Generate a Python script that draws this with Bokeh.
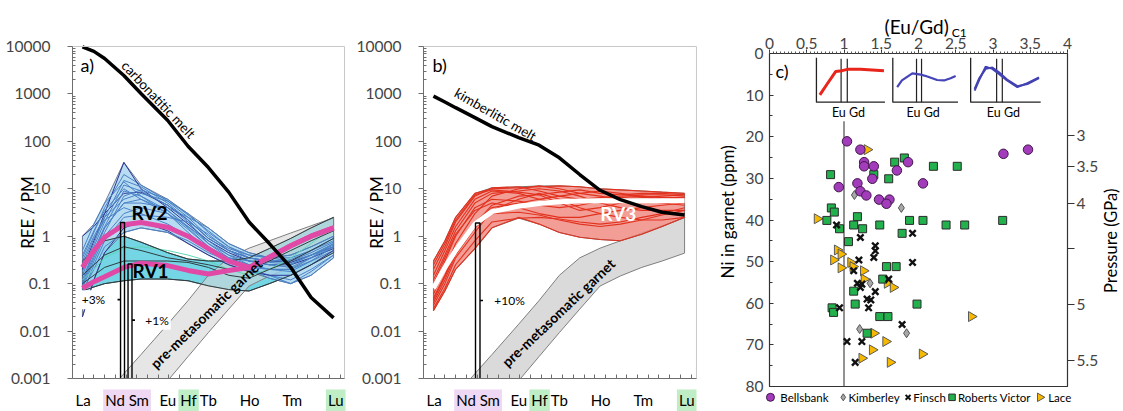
import numpy as np
from bokeh.plotting import figure
from bokeh.models import (Range1d, FixedTicker, LinearAxis, Label)
from bokeh.layouts import row
from bokeh.embed import file_html
from bokeh.resources import INLINE

FONT = "Lato"

# ---------------------------------------------------------------- spidergram data
elements = ["La", "Ce", "Pr", "Nd", "Sm", "Eu", "Hf", "Tb", "Dy", "Ho", "Er", "Tm", "Yb", "Lu"]
element_x = [0.93, 2.0, 3.0, 4.8, 6.4, 8.9, 10.8, 12.7, 14.6, 16.5, 18.4, 20.4, 22.3, 24.4]

ree_labels = ["La", "Nd Sm", "Eu", "Hf", "Tb", "Ho", "Tm", "Lu"]
ree_label_x = [1.0, 5.1, 8.9, 10.85, 12.7, 16.55, 20.55, 24.6]
ree_label_bg = [None, "#efd8f3", None, "#bfeec6", None, None, None, "#bfeec6"]

decades = [0.001, 0.01, 0.1, 1, 10, 100, 1000, 10000]
decade_labels = ["0.001", "0.01", "0.1", "1", "10", "100", "1000", "10000"]

carbonatitic_melt = [9800, 7900, 5600, 2450, 1020, 275, 79, 28, 8.5, 2.0, 0.7, 0.22, 0.051, 0.019]
kimberlitic_melt = [900, 676, 513, 316, 204, 120, 83, 45, 20, 9.3, 5.9, 4.2, 3.2, 2.8]

garnet_upper = [0.0001, 0.0002, 0.00044, 0.00126, 0.0032, 0.014, 0.044, 0.15, 0.35, 0.56, 0.8, 1.17, 1.66, 2.45]
garnet_lower = [0.000005, 0.00001, 0.00002, 0.00006, 0.00017, 0.0009, 0.0029, 0.0093, 0.029, 0.089, 0.145, 0.22, 0.3, 0.44]

rv1 = [0.08, 0.11, 0.14, 0.22, 0.27, 0.24, 0.19, 0.16, 0.19, 0.22, 0.36, 0.63, 1.0, 1.5]
rv2 = [0.22, 0.5, 0.95, 1.75, 1.95, 1.55, 1.0, 0.55, 0.3, 0.22, 0.36, 0.63, 1.0, 1.5]
rv3 = [0.08, 0.22, 0.5, 1.8, 3.3, 4.3, 4.9, 5.3, 5.5, 5.6, 5.6, 5.6, 5.6, 5.6]

rv2_patterns = [
    [1.0, 1.6, 3.0, 8.0, 8.5, 4.5, 2.2, 0.9, 0.5, 0.35, 0.3, 0.28, 0.4, 0.6],
    [0.35, 1.2, 4.0, 20, 12, 5.5, 2.5, 1.0, 0.55, 0.4, 0.35, 0.35, 0.5, 0.8],
    [0.2, 0.8, 3.0, 36, 10, 4.0, 1.8, 0.8, 0.45, 0.3, 0.25, 0.25, 0.35, 0.55],
    [0.15, 0.6, 2.0, 12, 9.0, 4.5, 2.0, 0.7, 0.35, 0.25, 0.2, 0.2, 0.3, 0.5],
    [0.3, 1.0, 2.5, 6.0, 8.0, 5.5, 3.0, 1.2, 0.6, 0.4, 0.35, 0.4, 0.6, 1.0],
    [0.1, 0.4, 1.5, 5.0, 6.0, 3.5, 1.5, 0.6, 0.3, 0.2, 0.15, 0.12, 0.2, 0.4],
    [0.08, 0.3, 1.0, 3.0, 4.0, 3.0, 1.6, 0.8, 0.4, 0.25, 0.2, 0.18, 0.3, 0.6],
    [0.25, 0.9, 2.2, 4.0, 3.0, 1.8, 1.0, 0.5, 0.3, 0.2, 0.15, 0.1, 0.15, 0.35],
    [0.12, 0.5, 1.6, 9.0, 7.0, 3.0, 1.2, 0.5, 0.28, 0.22, 0.2, 0.2, 0.35, 0.7],
    [0.06, 0.25, 0.8, 2.5, 2.8, 2.5, 2.0, 1.1, 0.5, 0.3, 0.25, 0.25, 0.4, 0.7],
    [0.18, 0.7, 2.5, 15, 11, 5.0, 2.2, 0.9, 0.5, 0.35, 0.3, 0.3, 0.45, 0.75],
    [0.4, 1.3, 3.5, 10, 6.0, 3.0, 1.4, 0.6, 0.35, 0.3, 0.3, 0.32, 0.5, 0.9],
    [0.02, 0.12, 0.45, 1.5, 2.0, 1.3, 0.7, 0.4, 0.25, 0.18, 0.15, 0.15, 0.25, 0.5],
    [0.1, 0.5, 1.5, 5.0, 5.0, 4.0, 2.5, 1.5, 0.7, 0.45, 0.35, 0.3, 0.4, 0.6],
    [0.07, 0.2, 0.6, 1.2, 1.5, 1.2, 0.8, 0.45, 0.3, 0.2, 0.13, 0.1, 0.18, 0.4],
    [0.5, 1.8, 5.0, 14, 7.0, 3.5, 1.6, 0.7, 0.4, 0.3, 0.25, 0.22, 0.35, 0.6],
    [0.09, 0.35, 1.2, 7.0, 9.5, 6.0, 2.8, 1.3, 0.6, 0.35, 0.28, 0.26, 0.4, 0.65],
]
rv1_patterns = [
    [0.3, 0.5, 0.8, 1.0, 0.75, 0.45, 0.33, 0.3, 0.3, 0.35, 0.55, 0.9, 1.5, 2.5],
    [0.07, 0.085, 0.1, 0.115, 0.125, 0.125, 0.115, 0.09, 0.075, 0.07, 0.1, 0.15, 0.25, 0.45],
    [0.15, 0.25, 0.4, 0.6, 0.5, 0.35, 0.3, 0.25, 0.2, 0.2, 0.3, 0.5, 0.8, 1.3],
    [0.1, 0.15, 0.22, 0.3, 0.3, 0.3, 0.28, 0.22, 0.15, 0.13, 0.2, 0.3, 0.5, 0.9],
]
rv1_mint = [0.12, 0.2, 0.35, 0.55, 0.6, 0.5, 0.4, 0.3, 0.2, 0.15, 0.2, 0.35, 0.7, 1.6]

rv3_patterns = [
    [0.3, 0.8, 2.5, 8, 10, 10.5, 11, 11.5, 11, 10, 9.5, 9, 8.5, 8],
    [0.2, 0.6, 2, 7, 10.5, 11, 9, 7, 6, 6.5, 7, 7.5, 7.5, 7],
    [0.12, 0.4, 1.3, 5, 8, 9, 10, 9, 7, 5, 4, 3.5, 3.5, 3.5],
    [0.08, 0.3, 1, 4, 6, 5.5, 4.5, 4, 4.5, 5.5, 6.5, 7, 6.5, 6],
    [0.05, 0.15, 0.5, 2, 4, 5, 6, 7, 8, 9, 8, 7, 6, 5],
    [0.04, 0.12, 0.4, 1.5, 3, 3.2, 2.8, 2.2, 1.8, 1.6, 1.8, 2.2, 2.8, 3.5],
    [0.03, 0.08, 0.25, 0.8, 2.0, 2.4, 2.5, 2.3, 2, 1.8, 2, 2.5, 3, 4],
    [0.027, 0.07, 0.2, 0.55, 1.5, 2.5, 1.8, 1.2, 0.95, 0.85, 0.8, 1.1, 1.6, 2.5],
    [0.15, 0.5, 1.6, 6, 9, 8, 6, 5, 5, 5.5, 6, 6.5, 7, 7.5],
    [0.06, 0.2, 0.7, 3, 7, 10, 11.5, 10, 8, 7, 6, 5.5, 5, 4.5],
    [0.1, 0.35, 1.1, 3.5, 5, 4, 3, 2.5, 2.5, 3, 3.5, 4, 4.5, 5],
    [0.035, 0.1, 0.35, 1.2, 3.5, 6, 8, 6, 4, 3, 2.5, 2.2, 2.2, 2.5],
    [0.25, 0.7, 2.2, 7.5, 9.5, 8.5, 7.5, 8.5, 9.5, 8, 7.5, 8, 8, 7.5],
    [0.045, 0.14, 0.45, 1.8, 4.5, 7, 7.5, 5, 3.5, 4, 5, 6, 6.5, 6.5],
]

# melting bars: x extent, top value, marked step and its label
bars_a_left = [4.49, 5.19]
bars_a_right = [4.86, 5.56]
bars_a_top = [1.95, 0.26]
bars_a_mark = [0.046, 0.017]
bars_a_text = ["+3%", "+1%"]
bars_b_left = [4.86]
bars_b_right = [5.28]
bars_b_top = [1.9]
bars_b_mark = [0.044]
bars_b_text = ["+10%"]

# ---------------------------------------------------------------- panel c data
bellsbank_eugd = [1.04, 1.22, 1.27, 1.27, 1.40, 1.71, 1.86, 1.38, 1.18, 0.93, 2.06, 3.14, 3.47,
                  1.22, 1.30, 1.47, 1.61, 1.57]
bellsbank_ni = [21.1, 23.1, 26.1, 27.1, 27.1, 28.1, 26.1, 30.1, 31.2, 32.1, 31.2, 24.1, 23.1,
                33.1, 34.1, 35.1, 35.1, 36.1]
kimberley_eugd = [1.14, 1.77, 1.35, 1.21, 1.84]
kimberley_ni = [34.0, 37.1, 55.2, 66.2, 67.2]
finsch_eugd = [0.90, 1.92, 1.22, 1.42, 1.42, 1.40, 1.20, 1.92, 1.13, 1.60, 1.18, 1.24, 1.22,
               1.42, 1.31, 1.36, 1.33, 0.94, 1.78, 1.04, 1.24, 1.15]
finsch_ni = [41.2, 43.2, 44.2, 46.2, 47.4, 49.0, 49.6, 50.2, 52.2, 54.2, 55.2, 55.4, 56.2,
             57.2, 59.0, 59.2, 61.1, 61.1, 65.1, 69.2, 69.2, 74.2]
rv_eugd = [0.82, 1.40, 1.68, 1.81, 1.60, 2.20, 2.52, 0.83, 0.87, 0.77, 0.94, 1.18, 1.13, 1.25,
           1.48, 1.88, 2.06, 2.37, 2.62, 3.13, 1.78, 1.06, 1.57, 1.70, 1.52, 1.13, 1.15, 1.98,
           0.84, 0.86, 1.48, 1.59, 1.31]
rv_ni = [29.1, 29.1, 26.1, 25.1, 30.1, 27.1, 27.1, 37.1, 38.1, 40.1, 42.1, 39.2, 41.2, 42.1,
         41.2, 40.1, 40.1, 41.2, 41.2, 40.1, 43.2, 45.2, 51.2, 51.2, 54.2, 57.1, 60.2, 60.2,
         61.1, 62.2, 63.2, 63.2, 67.2]
lace_eugd = [1.31, 0.64, 0.91, 0.96, 0.86, 0.96, 1.09, 1.12, 1.26, 1.27, 1.58, 1.66, 2.71,
             1.40, 1.56, 1.38, 2.05, 1.24, 1.62]
lace_ni = [23.1, 39.7, 47.2, 48.2, 49.6, 51.5, 50.2, 51.2, 52.2, 54.2, 55.2, 56.2, 63.2,
           67.2, 69.2, 71.2, 72.2, 73.2, 74.2]

pressure_gpa = [3, 3.5, 4, 4.5, 5, 5.5]
pressure_ni = [19.7, 27.1, 36.0, 46.9, 60.2, 73.8]
pressure_text = ["3", "3.5", "4", "", "5", "5.5"]

eugd_ticks = [0, 0.5, 1, 1.5, 2, 2.5, 3, 3.5, 4]

# mini REE patterns (fractions of each inset box)
inset_left = [0.63, 1.655, 2.70]
inset_right = [1.55, 2.53, 3.64]
inset_top_ni = 1.03
inset_bottom_ni = 11.7
inset_eu = [0.36, 0.364, 0.371]
inset_gd = [0.45, 0.441, 0.452]
inset1_x = [0.05, 0.156, 0.28, 0.375, 0.45, 0.64, 0.985]
inset1_y = [0.165, 0.41, 0.69, 0.71, 0.74, 0.74, 0.71]
inset2_x = [0.067, 0.14, 0.30, 0.43, 0.53, 0.68, 0.785, 0.887, 0.964]
inset2_y = [0.34, 0.49, 0.65, 0.62, 0.58, 0.50, 0.49, 0.54, 0.59]
inset3_x = [0.057, 0.12, 0.214, 0.31, 0.40, 0.52, 0.667, 0.81, 0.976]
inset3_y1 = [0.26, 0.49, 0.80, 0.75, 0.64, 0.49, 0.34, 0.43, 0.56]
inset3_y2 = [0.30, 0.53, 0.75, 0.78, 0.68, 0.51, 0.36, 0.41, 0.54]

minor_log = [m * 10.0 ** e for e in range(-3, 4) for m in range(2, 10)]

# spidergram geometry: the canvas is the plotting frame, the axes sit at fixed data spots
SPIDER_PX_PER_UNIT = 10.7
SPIDER_PX_PER_DECADE = 47.43
SPIDER_LEFT = 72
SPIDER_TOP = 46
SPIDER_BOTTOM = 33


def add_text(p, x, y, text, size="15px", style="normal", color="black", align="center",
             baseline="middle", angle=0, bg=None, pad=0):
    p.add_layout(Label(x=x, y=y, text=text, text_font=FONT, text_font_size=size,
                       text_font_style=style, text_color=color, text_align=align,
                       text_baseline=baseline, angle=angle, angle_units="deg",
                       background_fill_color=bg, padding=pad))


def spider_figure(width, xmax):
    x0 = -SPIDER_LEFT / SPIDER_PX_PER_UNIT
    x1 = (width - SPIDER_LEFT) / SPIDER_PX_PER_UNIT
    y1 = 10 ** (4 + SPIDER_TOP / SPIDER_PX_PER_DECADE)
    y0 = 10 ** (-3 - SPIDER_BOTTOM / SPIDER_PX_PER_DECADE)
    p = figure(width=width, height=411, x_range=Range1d(x0, x1), y_range=Range1d(y0, y1),
               y_axis_type="log", output_backend="svg", toolbar_location=None,
               sizing_mode="fixed", min_border=0)
    p.grid.visible = False
    p.outline_line_color = None
    ya = p.yaxis[0]
    ya.fixed_location = 0
    ya.bounds = (0.001, 10000)
    ya.ticker = FixedTicker(ticks=decades, minor_ticks=minor_log)
    ya.major_label_overrides = dict(zip(decades, decade_labels))
    ya.major_label_text_font = FONT
    ya.major_label_text_font_size = "15.5px"
    ya.major_label_standoff = 17
    ya.major_tick_out = 5
    ya.major_tick_in = 0
    ya.minor_tick_in = 3
    ya.minor_tick_out = 0
    ya.axis_line_color = "#6e6e6e"
    ya.major_tick_line_color = "#6e6e6e"
    ya.minor_tick_line_color = "#6e6e6e"
    xa = p.xaxis[0]
    xa.fixed_location = 0.001
    xa.bounds = (0, xmax)
    xa.ticker = FixedTicker(ticks=list(range(1, 26)))
    xa.major_label_overrides = {i: "" for i in range(1, 26)}
    xa.major_tick_in = 4
    xa.major_tick_out = 0
    xa.minor_tick_in = 0
    xa.minor_tick_out = 0
    xa.axis_line_color = "#6e6e6e"
    xa.major_tick_line_color = "#6e6e6e"
    return p, (x0, x1, y0)


def finish_spider(p, ext, xmax):
    x0, x1, y0 = ext
    # blank out everything drawn below the 0.001 line, then draw the plot box
    p.quad(left=x0, right=x1, bottom=y0, top=0.001, fill_color="white", line_color=None)
    p.quad(left=0, right=xmax, bottom=0.001, top=10000, fill_color=None,
           line_color="#c8c8c8", line_width=1)
    for txt, xv, bg in zip(ree_labels, ree_label_x, ree_label_bg):
        add_text(p, xv, 3.44e-4, txt, size="15px", bg=bg, pad=2)


def band(p, lower, upper, fill, alpha, line, lw=1.0):
    xs = list(element_x) + list(element_x[::-1])
    ys = list(upper) + list(lower[::-1])
    p.patch(xs, ys, fill_color=fill, fill_alpha=alpha, line_color=line, line_width=lw)


def melt_bars(p, lefts, rights, tops, marks, texts):
    for l, r, t, m, s in zip(lefts, rights, tops, marks, texts):
        p.quad(left=l, right=r, top=t, bottom=0.0009, fill_color=None,
               line_color="black", line_width=1.4)
        if s == "+3%":
            p.segment(l - 0.28, m, l, m, line_color="black", line_width=1.6)
        else:
            p.segment(r, m, r + 0.28, m, line_color="black", line_width=1.6)


# ---------------------------------------------------------------- panel a
XMAX_A = 25.42
p1, ext1 = spider_figure(351, XMAX_A)
band(p1, np.min(rv1_patterns, axis=0), np.max(rv1_patterns, axis=0), "#5ccfe1", 0.85, "#2e3b3f", 0.8)
band(p1, np.array(garnet_lower), np.array(garnet_upper), "#d6d6d6", 0.6, "#7f7f7f", 1.0)
band(p1, np.min(rv2_patterns, axis=0), np.max(rv2_patterns, axis=0), "#a0d2ef", 0.75, "#55607a", 0.8)
for i, pat in enumerate(rv2_patterns):
    col = "#2d3593" if i in (0, 2, 12) else "#4b82c6"
    p1.line(element_x, pat, line_color=col, line_width=1.0)
p1.line(element_x, rv1_mint, line_color="#5fd6b6", line_width=1.0)
for pat in rv1_patterns:
    p1.line(element_x, pat, line_color="#2f3d40", line_width=1.0)
p1.line(element_x, rv2, line_color="#e04aa6", line_width=5)
p1.line(element_x, rv1, line_color="#e04aa6", line_width=5)
p1.line(element_x, carbonatitic_melt, line_color="black", line_width=3.5)
melt_bars(p1, bars_a_left, bars_a_right, bars_a_top, bars_a_mark, bars_a_text)
finish_spider(p1, ext1, XMAX_A)
add_text(p1, 1.96, bars_a_mark[0], bars_a_text[0], size="12px", bg="white", pad=2)
add_text(p1, 7.9, bars_a_mark[1], bars_a_text[1], size="12px", bg="white", pad=2)
add_text(p1, 0.75, 4000, "a)", size="18px", align="left")
add_text(p1, 8.04, 760, "carbonatitic melt", size="13.5px", angle=-46.7)
add_text(p1, 12.5, 0.0234, "pre-metasomatic garnet", size="14px", style="bold", angle=44.3)
add_text(p1, 7.2, 3.2, "RV2", size="19px", style="bold")
add_text(p1, 7.3, 0.19, "RV1", size="19px", style="bold")
add_text(p1, -4.2, 3.16, "REE / PM", size="17px", angle=90)

# ---------------------------------------------------------------- panel b
XMAX_B = 25.51
p2, ext2 = spider_figure(364, XMAX_B)
band(p2, np.array(garnet_lower), np.array(garnet_upper), "#dadada", 1.0, "#7f7f7f", 1.0)
band(p2, np.min(rv3_patterns, axis=0), np.max(rv3_patterns, axis=0), "#f08c82", 0.85, "#6a6a6a", 0.9)
for pat in rv3_patterns:
    p2.line(element_x, pat, line_color="#e2321f", line_width=1.1)
p2.line(element_x, rv3, line_color="white", line_width=5)
p2.line(element_x, kimberlitic_melt, line_color="black", line_width=3.5)
melt_bars(p2, bars_b_left, bars_b_right, bars_b_top, bars_b_mark, bars_b_text)
finish_spider(p2, ext2, XMAX_B)
add_text(p2, 8.04, bars_b_mark[0], bars_b_text[0], size="12px")
add_text(p2, 0.84, 4000, "b)", size="18px", align="left")
add_text(p2, 6.73, 370, "kimberlitic melt", size="13.5px", angle=-29.8)
add_text(p2, 12.6, 0.0245, "pre-metasomatic garnet", size="14px", style="bold", angle=43.5)
add_text(p2, 18.2, 3.0, "RV3", size="19px", style="bold", color="white")
add_text(p2, -4.39, 3.16, "REE / PM", size="17px", angle=90)

# ---------------------------------------------------------------- panel c
C_LEFT, C_TOP, C_PX_X, C_PX_NI = 54, 53, 74.5, 4.1625
c_x0 = -C_LEFT / C_PX_X
c_x1 = (408 - C_LEFT) / C_PX_X
c_top = -C_TOP / C_PX_NI
c_bottom = (411 - C_TOP) / C_PX_NI
p3 = figure(width=408, height=411, x_range=Range1d(c_x0, c_x1), y_range=Range1d(c_bottom, c_top),
            x_axis_location="above", output_backend="svg", toolbar_location=None,
            sizing_mode="fixed", min_border=0)
p3.grid.visible = False
p3.outline_line_color = None

xa = p3.xaxis[0]
xa.fixed_location = 0
xa.bounds = (0, 4)
xa.ticker = FixedTicker(ticks=eugd_ticks, minor_ticks=[i * 0.05 for i in range(81)])
xa.major_label_overrides = {t: f"{t:g}" for t in eugd_ticks}
xa.major_label_text_font = FONT
xa.major_label_text_font_size = "15.5px"
xa.major_label_standoff = 1
xa.major_tick_out = 4
xa.major_tick_in = 0
xa.minor_tick_out = 2
xa.minor_tick_in = 0
xa.axis_line_color = "#333333"
xa.major_tick_line_color = "#333333"
xa.minor_tick_line_color = "#555555"

ya = p3.yaxis[0]
ya.fixed_location = 0
ya.bounds = (0, 80)
ya.ticker = FixedTicker(ticks=list(range(0, 81, 10)), minor_ticks=list(range(5, 80, 10)))
ya.major_label_text_font = FONT
ya.major_label_text_font_size = "15.5px"
ya.major_label_standoff = 6
ya.major_tick_in = 4
ya.major_tick_out = 0
ya.minor_tick_in = 3
ya.minor_tick_out = 0
ya.axis_line_color = "#333333"
ya.major_tick_line_color = "#333333"
ya.minor_tick_line_color = "#333333"

ra = LinearAxis(ticker=FixedTicker(ticks=pressure_ni), fixed_location=4, bounds=(0, 80),
                major_label_overrides=dict(zip(pressure_ni, pressure_text)))
ra.major_label_text_font = FONT
ra.major_label_text_font_size = "15.5px"
ra.major_label_standoff = 2
ra.major_tick_out = 7
ra.major_tick_in = 0
ra.minor_tick_out = 0
ra.minor_tick_in = 0
ra.axis_line_color = "#333333"
ra.major_tick_line_color = "#333333"
p3.add_layout(ra, "right")

p3.quad(left=0, right=4, bottom=80, top=0, fill_color=None, line_color="#333333", line_width=1.2)

# reference line Eu/Gd = 1
p3.segment(1, 16.3, 1, 80, line_color="#3a3a3a", line_width=1.1)

# small REE pattern insets, each drawn in its own sub-coordinate box
inset_curves = [[(inset1_x, inset1_y, "#e8241b", 3.0)],
                [(inset2_x, inset2_y, "#4444b8", 2.2)],
                [(inset3_x, inset3_y1, "#4242b4", 2.0), (inset3_x, inset3_y2, "#4242b4", 2.0)]]
for k in range(3):
    sub = p3.subplot(x_source=Range1d(0, 1), y_source=Range1d(0, 1),
                     x_target=Range1d(inset_left[k], inset_right[k]),
                     y_target=Range1d(inset_bottom_ni, inset_top_ni))
    sub.line([0, 0, 1], [1, 0, 0], line_color="#222222", line_width=1.3)
    sub.segment(inset_eu[k], 0, inset_eu[k], 0.98, line_color="#222222", line_width=1.2)
    sub.segment(inset_gd[k], 0, inset_gd[k], 0.98, line_color="#222222", line_width=1.2)
    for cx, cy, col, lw in inset_curves[k]:
        sub.line(cx, cy, line_color=col, line_width=lw)
    add_text(p3, (inset_left[k] + inset_right[k]) / 2 - 0.03, 14.2, "Eu Gd", size="12.5px")

# locality series: marker style per locality
styles = {
    "Bellsbank": dict(marker="circle", fill_color="#a23cba", line_color="#40184a", line_width=1),
    "Kimberley": dict(marker="diamond", fill_color="#a8a8a8", line_color="#555555", line_width=1),
    "Finsch": dict(marker="x", line_color="#111111", line_width=2.4),
    "Roberts Victor": dict(marker="square", fill_color="#22b14c", line_color="#2b2b2b", line_width=1),
    "Lace": dict(marker="triangle", angle=-np.pi / 2, fill_color="#f6b800",
                 line_color="#5a5a5a", line_width=1),
}
point_size = {"Bellsbank": 9.5, "Kimberley": 9, "Finsch": 9, "Roberts Victor": 8, "Lace": 10}
key_size = {"Bellsbank": 8, "Kimberley": 7, "Finsch": 7, "Roberts Victor": 6.5, "Lace": 8.5}

draw_order = [("Lace", lace_eugd, lace_ni), ("Kimberley", kimberley_eugd, kimberley_ni),
              ("Roberts Victor", rv_eugd, rv_ni), ("Finsch", finsch_eugd, finsch_ni),
              ("Bellsbank", bellsbank_eugd, bellsbank_ni)]
for name, xs, ys in draw_order:
    p3.scatter(xs, ys, size=point_size[name], **styles[name])

# key row under the plot box
legend_names = ["Bellsbank", "Kimberley", "Finsch", "Roberts Victor", "Lace"]
legend_key_x = [0.013, 0.99, 1.86, 2.45, 3.63]
legend_text_x = [0.145, 1.06, 1.93, 2.53, 3.74]
LEGEND_NI = 82.6
for name, kx, tx in zip(legend_names, legend_key_x, legend_text_x):
    st = dict(styles[name])
    if name == "Finsch":
        st["line_width"] = 2.0
    p3.scatter([kx], [LEGEND_NI], size=key_size[name], **st)
    add_text(p3, tx, LEGEND_NI, name, size="11.5px", align="left")

add_text(p3, 0.08, 4.3, "c)", size="18px", align="left")
add_text(p3, 1.975, -6.6, "(Eu/Gd)", size="19px")
add_text(p3, 2.445, -5.0, "C1", size="12px", align="left")
add_text(p3, -0.57, 37.5, "Ni in garnet  (ppm)", size="17px", angle=90)
add_text(p3, 4.59, 45.0, "Pressure (GPa)", size="16.5px", angle=90)

layout = row(p1, p2, p3, sizing_mode="fixed", width=1123, height=411)
open("out.html", "w").write(file_html(layout, INLINE))
